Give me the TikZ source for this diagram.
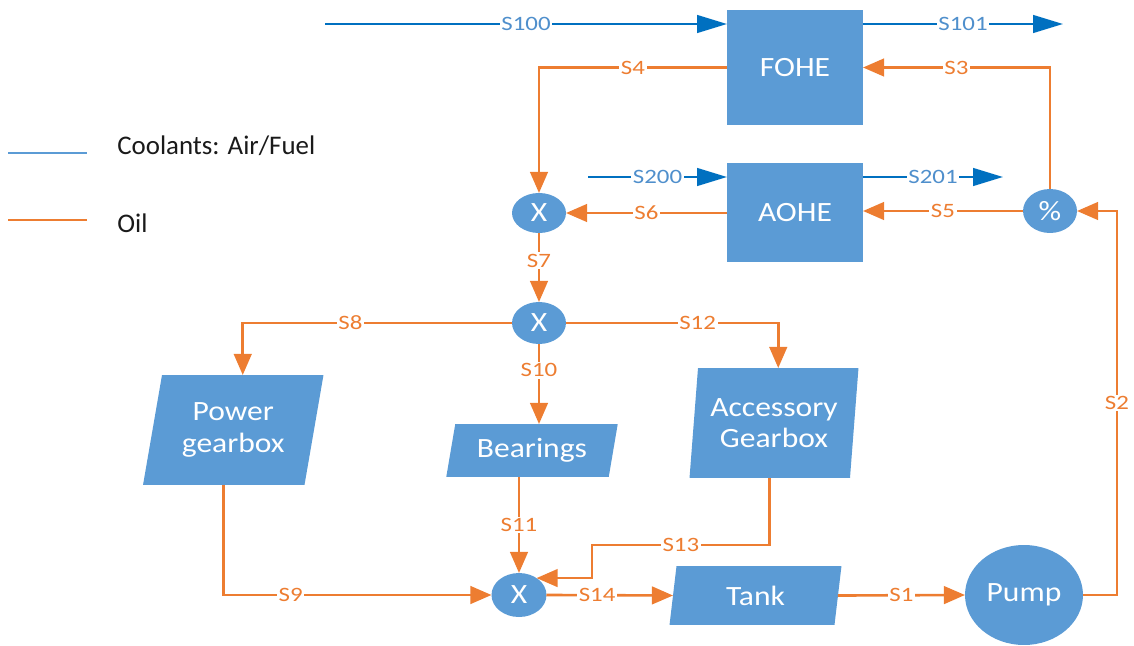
\documentclass[tikz,border=0pt]{standalone}
\usepackage{fontspec}
\setmainfont{Carlito}
\newfontfamily\boxfont[FakeStretch=1.13]{Carlito}
\newfontfamily\labfont[FakeStretch=1.22]{Carlito}
\usetikzlibrary{shapes.geometric,arrows.meta,backgrounds}
\definecolor{boxblue}{HTML}{5B9BD5}
\definecolor{oilor}{HTML}{ED7D31}
\definecolor{coolblue}{HTML}{0070C0}
\definecolor{coollab}{HTML}{4F8FCC}
\definecolor{legblue}{HTML}{5B9BD5}
\definecolor{legtext}{HTML}{1A1A1A}
\newcommand\parafill[2]{\fill[boxblue] ([xshift=#2]#1.north west) -- ([xshift=#2]#1.north east) -- ([xshift=-#2]#1.south east) -- ([xshift=-#2]#1.south west) -- cycle;}
\tikzset{
  boxtext/.style={font=\boxfont\fontsize{15.9}{18}\selectfont, text=white, align=center},
  box/.style={rectangle, fill=boxblue, boxtext, inner sep=0pt, outer sep=0pt},
  pbox/.style={rectangle, boxtext, inner sep=0pt, outer sep=0pt},
  junc/.style={ellipse, fill=boxblue, boxtext, inner sep=0pt, outer sep=0pt},
  oil/.style={color=oilor, line width=1.5pt, -{Triangle[length=12pt,width=10pt]}},
  cool/.style={color=coolblue, line width=1.4pt, -{Triangle[length=17pt,width=10pt]}},
  olab/.style={fill=white, text=oilor, inner sep=1pt, font=\labfont\fontsize{11.6}{13}\selectfont},
  clab/.style={fill=white, text=coollab, inner sep=1pt, font=\labfont\fontsize{11.6}{13}\selectfont},
  legtxt/.style={anchor=west, inner sep=0pt, text=legtext, font=\fontsize{15.3}{18}\selectfont},
}
\begin{document}
\begin{tikzpicture}[x=0.02cm, y=-0.02cm]
\useasboundingbox (0,0) rectangle (1134,646);

% main blocks
\node[box, minimum width=2.72cm, minimum height=2.30cm] (fohe) at (795,67.5) {FOHE};
\node[box, minimum width=2.72cm, minimum height=1.98cm] (aohe) at (795,212.5) {AOHE};

% junctions
\node[junc, minimum width=1.08cm, minimum height=0.80cm] (x1) at (539,213) {X};
\node[junc, minimum width=1.08cm, minimum height=0.84cm] (x2) at (539,323) {X};
\node[junc, minimum width=1.08cm, minimum height=0.88cm] (pct) at (1050,211) {\%};
\node[junc, minimum width=1.10cm, minimum height=0.88cm] (x3) at (519,595) {X};
\node[junc, minimum width=2.36cm, minimum height=2.00cm] (pump) at (1024,595) {Pump};

% parallelogram blocks
\node[pbox, minimum width=3.23cm, minimum height=2.20cm] (pg) at (233.25,430) {Power\\gearbox};
\node[pbox, minimum width=3.25cm, minimum height=1.06cm] (bear) at (532,450.5) {Bearings};
\node[pbox, minimum width=3.21cm, minimum height=2.20cm] (acc) at (774,423) {Accessory\\Gearbox};
\node[pbox, minimum width=3.30cm, minimum height=1.18cm] (tank) at (755.5,595.5) {Tank};
\begin{scope}[on background layer]
  \parafill{pg}{0.19cm}
  \parafill{bear}{0.09cm}
  \parafill{acc}{0.085cm}
  \parafill{tank}{0.07cm}
\end{scope}

% coolant streams
\coordinate (s100a) at (325,24);
\coordinate (s101b) at (1063,24);
\coordinate (s200a) at (588,177);
\coordinate (s201b) at (1003,177);
\draw[cool] (s100a) -- node[clab]{S100} (s100a -| fohe.west);
\draw[cool] (s101b -| fohe.east) -- node[clab]{S101} (s101b);
\draw[cool] (s200a) -- node[clab]{S200} (s200a -| aohe.west);
\draw[cool] (s201b -| aohe.east) -- node[clab]{S201} (s201b);

% oil streams
\draw[oil] (pct.north) |- node[olab, pos=0.75]{S3} (fohe.east);
\draw[oil] (fohe.west) -| node[olab, pos=0.25]{S4} (x1.north);
\draw[oil] (pct.west) -- node[olab]{S5} (pct.west -| aohe.east);
\draw[oil] (x1.east -| aohe.west) -- node[olab]{S6} (x1.east);
\draw[oil] (x1.south) -- node[olab, pos=0.4]{S7} (x2.north);
\draw[oil] (x2.west) -| node[olab, pos=0.3]{S8} ([xshift=0.19cm]pg.north);
\draw[oil] (x2.south) -- node[olab, pos=0.33]{S10} (x2.south |- bear.north);
\draw[oil] (x2.east) -| node[olab, pos=0.31]{S12} ([xshift=0.085cm]acc.north);
\draw[oil] ([xshift=-0.19cm]pg.south) |- node[olab, pos=0.625]{S9} (x3.west);
\draw[oil] (x3.north |- bear.south) -- node[olab]{S11} (x3.north);
\coordinate (s13a) at (592,545);
\draw[oil] ([xshift=-0.085cm]acc.south) |- node[olab, pos=0.75]{S13} (s13a) |- (x3.44);
\draw[oil] (x3.east) -- node[olab, pos=0.4]{S14} (tank.west);
\draw[oil] (tank.east) -- node[olab]{S1} (pump.west);
\coordinate (s2c) at (1117,211);
\draw[oil] (pump.east) -| node[olab, pos=0.75]{S2} (s2c) -- (pct.east);

% legend
\coordinate (lb1) at (8,153);
\coordinate (lb2) at (87,153);
\coordinate (lo1) at (8,220);
\coordinate (lo2) at (87,220);
\draw[legblue, line width=1.7pt] (lb1) -- (lb2);
\draw[oilor, line width=1.7pt] (lo1) -- (lo2);
\node[legtxt] (legc) at (117,146) {Coolants: Air/Fuel};
\node[legtxt] (lego) at (117,223) {Oil};
\end{tikzpicture}
\end{document}
